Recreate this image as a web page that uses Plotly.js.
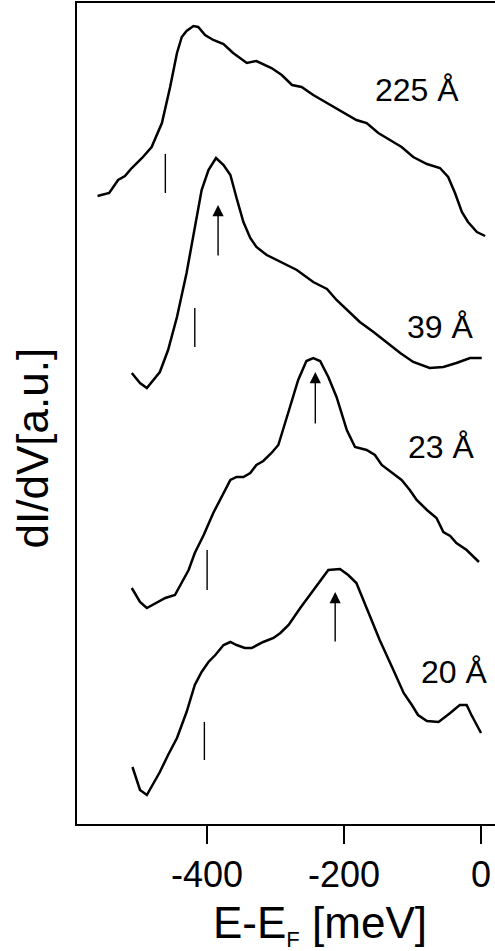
<!DOCTYPE html>
<html>
<head>
<meta charset="utf-8">
<script src="https://cdn.plot.ly/plotly-3.0.1.min.js"></script>
<style>html,body{margin:0;padding:0;background:#fff;overflow:hidden}#chart{width:495px;height:951px}</style>
</head>
<body>
<div id="chart"></div>
<script>
// Energy E-E_F (meV) and dI/dV (a.u., curves stacked as in the figure)
const energy225 = [-560,-543,-530,-520,-510,-495,-481,-466,-454,-444,-437,-430,-420,-413,-403,-391,-376,-362,-342,-328,-306,-291,-276,-262,-245,-225,-201,-182,-167,-150,-133,-116,-99,-79,-60,-48,-38,-28,-19,-6,6];
const didv225 = [6.27,6.30,6.43,6.47,6.55,6.65,6.76,7.00,7.36,7.70,7.86,7.92,7.97,7.96,7.88,7.83,7.79,7.70,7.60,7.62,7.55,7.48,7.38,7.36,7.28,7.20,7.11,7.03,7.00,6.90,6.83,6.76,6.66,6.59,6.55,6.46,6.30,6.11,6.01,5.91,5.87];

const energy39 = [-510,-498,-488,-469,-457,-444,-430,-418,-408,-398,-387,-376,-366,-357,-347,-337,-328,-313,-293,-269,-245,-225,-211,-196,-177,-157,-138,-118,-99,-75,-55,-36,-16,1];
const didv39 = [4.50,4.40,4.35,4.51,4.73,5.06,5.50,5.96,6.33,6.53,6.65,6.58,6.48,6.25,6.01,5.85,5.76,5.68,5.61,5.53,5.41,5.34,5.23,5.13,5.01,4.91,4.81,4.70,4.61,4.55,4.56,4.60,4.65,4.65];

const energy23 = [-510,-498,-488,-474,-461,-447,-437,-427,-418,-405,-391,-379,-366,-357,-347,-337,-328,-318,-306,-296,-289,-279,-267,-255,-245,-235,-223,-211,-196,-184,-167,-155,-145,-130,-116,-104,-94,-79,-65,-55,-45,-36,-21,-3];
const didv23 = [2.35,2.21,2.15,2.20,2.25,2.28,2.40,2.53,2.70,2.88,3.10,3.26,3.43,3.46,3.46,3.50,3.58,3.62,3.70,3.78,3.93,4.16,4.43,4.62,4.65,4.62,4.46,4.26,3.93,3.76,3.73,3.68,3.58,3.50,3.43,3.33,3.23,3.13,3.05,2.91,2.87,2.80,2.73,2.61];

const energy20 = [-509,-498,-488,-469,-457,-444,-430,-418,-408,-398,-388,-376,-366,-357,-345,-335,-318,-303,-293,-281,-264,-250,-235,-223,-206,-194,-182,-167,-148,-128,-113,-101,-92,-79,-62,-45,-31,-21,-14,0];
const didv20 = [0.56,0.33,0.28,0.51,0.68,0.85,1.11,1.38,1.51,1.61,1.68,1.78,1.81,1.78,1.75,1.75,1.81,1.85,1.90,1.98,2.15,2.28,2.41,2.53,2.54,2.48,2.40,2.15,1.83,1.53,1.30,1.18,1.08,1.02,1.01,1.10,1.18,1.18,1.08,0.90];

// Curve labels (thickness) and where they sit
const thicknessLabels = ['225 Å','39 Å','23 Å','20 Å'];
const labelEnergy = [-93,-60,-58,-39];
const labelLevel = [7.33,4.96,3.76,1.51];

// Gap-edge markers (vertical bars)
const gapEnergy = [-461,-418,-400,-404];
const gapLow = [6.30,4.76,2.33,0.63];
const gapHigh = [6.69,5.15,2.73,1.01];

// Peak arrows (39, 23, 20 Å)
const peakEnergy = [-384,-242,-213];
const arrowTail = [5.66,3.98,1.80];
const arrowTip = [6.18,4.51,2.31];

// Axis ticks
const tickValues = [-400,-200,0];
const tickLabels = ['-400','-200','0'];

const FONT = 'Liberation Sans, Arial, Helvetica, sans-serif';
const curveLine = {color:'#000', width:2.5};

const traces = [
  {x:energy225, y:didv225, mode:'lines', line:curveLine},
  {x:energy39, y:didv39, mode:'lines', line:curveLine},
  {x:energy23, y:didv23, mode:'lines', line:curveLine},
  {x:energy20, y:didv20, mode:'lines', line:curveLine}
];
gapEnergy.forEach((e,i)=>{
  traces.push({x:[e,e], y:[gapLow[i],gapHigh[i]], mode:'lines', line:{color:'#000', width:1.4}});
});

const annotations = [];
thicknessLabels.forEach((t,i)=>{
  annotations.push({x:labelEnergy[i], y:labelLevel[i], xref:'x', yref:'y', text:t, showarrow:false,
    xanchor:'center', yanchor:'middle', font:{family:FONT, size:32, color:'#000'}});
});
peakEnergy.forEach((e,i)=>{
  annotations.push({x:e, y:arrowTip[i], ax:e, ay:arrowTail[i], xref:'x', yref:'y', axref:'x', ayref:'y',
    text:'', showarrow:true, arrowhead:2, arrowsize:1.6, arrowwidth:1.4, arrowcolor:'#000', standoff:0});
});
annotations.push({xref:'paper', yref:'paper', x:0.5813, y:-0.123, xanchor:'center', yanchor:'middle',
  text:'E-E<sub><span style="font-size:22px">F</span></sub> [meV]', showarrow:false,
  font:{family:FONT, size:44, color:'#000'}});
annotations.push({xref:'paper', yref:'paper', x:-0.1053, y:0.4586, xanchor:'center', yanchor:'middle',
  text:'dI/dV[a.u.]', textangle:-90, showarrow:false, font:{family:FONT, size:44, color:'#000'}});

const layout = {
  width:495, height:951,
  margin:{l:77, r:0, t:3, b:127},
  paper_bgcolor:'#fff', plot_bgcolor:'#fff',
  showlegend:false,
  xaxis:{range:[-590,20.4], tickvals:tickValues, ticktext:tickLabels, ticks:'outside', ticklen:18, tickwidth:2,
    tickcolor:'#000', showline:true, linecolor:'#000', linewidth:2, mirror:true, showgrid:false, zeroline:false,
    tickfont:{family:FONT, size:36, color:'#000'}, automargin:false},
  yaxis:{range:[-0.01,8.20], showticklabels:false, ticks:'', showline:true, linecolor:'#000', linewidth:2,
    mirror:false, showgrid:false, zeroline:false, automargin:false},
  annotations:annotations
};

Plotly.newPlot('chart', traces, layout, {displayModeBar:false, staticPlot:true});
</script>
</body>
</html>
